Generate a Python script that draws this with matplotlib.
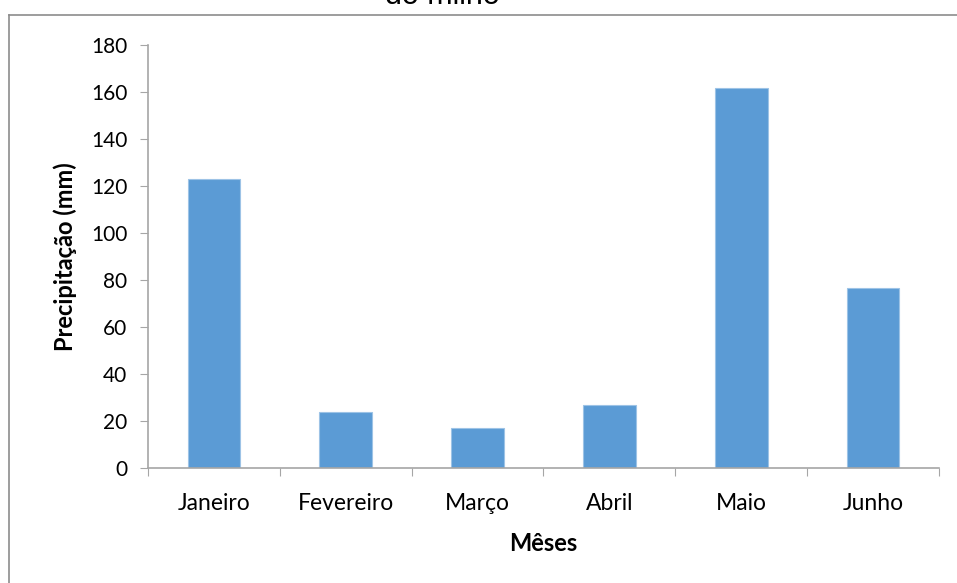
import matplotlib.pyplot as plt
from matplotlib.lines import Line2D

# dados de precipitação por mês
meses = ['Janeiro', 'Fevereiro', 'Março', 'Abril', 'Maio', 'Junho']
precipitacao = [123, 23.8, 17.2, 26.7, 161.8, 76.8]
yticks = [0, 20, 40, 60, 80, 100, 120, 140, 160, 180]

W, H = 957, 583
fig = plt.figure(figsize=(W / 100, H / 100), dpi=100)
ax = fig.add_axes([148 / W, 1 - 468 / H, 791 / W, 423 / H])

x = range(len(meses))
ax.bar(x, precipitacao, width=0.4, color='#5B9BD5', edgecolor='#9DC3E6', linewidth=0.8, zorder=2)

ax.set_xlim(-0.5, len(meses) - 0.5)
ax.set_ylim(0, 180)
ax.set_yticks(yticks)
ax.set_yticklabels([str(v) for v in yticks], fontsize=15, family='Lato')

# ticks do eixo x nos limites das categorias, rótulos no centro
ax.set_xticks([i - 0.5 for i in range(len(meses) + 1)])
ax.set_xticklabels([])
ax.set_xticks(list(x), minor=True)
ax.set_xticklabels(meses, minor=True, fontsize=16.5, family='Lato')
ax.tick_params(axis='x', which='minor', length=0, pad=18)
ax.tick_params(axis='x', which='major', length=6, direction='out', color='#A6A6A6')
ax.tick_params(axis='y', length=6, direction='out', color='#A6A6A6', pad=9)

for s in ['top', 'right']:
    ax.spines[s].set_visible(False)
for s in ['left', 'bottom']:
    ax.spines[s].set_color('#A6A6A6')
    ax.spines[s].set_linewidth(1.2)

ax.set_ylabel('Precipitação (mm)', fontsize=17, fontweight='bold', family='Lato', labelpad=10)
ax.set_xlabel('Mêses', fontsize=17, fontweight='bold', family='Lato', labelpad=13)

# borda do gráfico (cortada na imagem original)
fig.add_artist(Line2D([9 / W, 1], [1 - 15 / H, 1 - 15 / H], color='#8C8C8C', lw=1.2))
fig.add_artist(Line2D([9 / W, 9 / W], [0, 1 - 15 / H], color='#8C8C8C', lw=1.2))

# título cortado no topo
fig.text(442 / W, 1 - 4 / H, 'do milho', fontsize=22, family='Liberation Sans',
         ha='center', va='baseline')

fig.savefig('out.png', dpi=100)
